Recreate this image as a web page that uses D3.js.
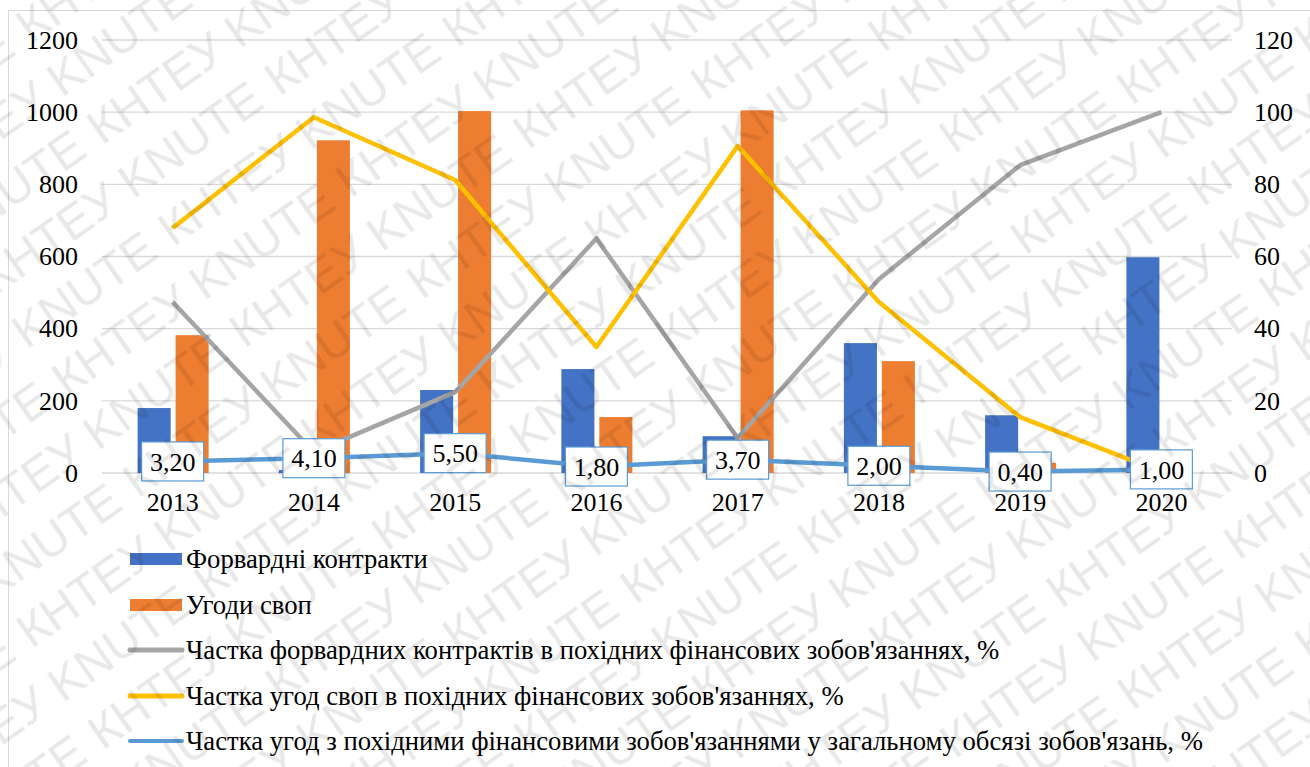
<html>
  <body style="margin:0;background:#fff">
    <style>
      svg text { font-family: 'Liberation Serif', 'Times New Roman', serif; fill: #000; }
      svg text.wm { font-family: 'Liberation Sans', Arial, sans-serif; fill: #000; fill-opacity: 0.09; }
    </style>
    <script src="https://d3js.org/d3.v7.min.js"></script>
    <svg id="chart"></svg>
    <script>
      const years = ['2013', '2014', '2015', '2016', '2017', '2018', '2019', '2020'];
      const forwards = [180, 8, 230, 288, 102, 360, 160, 598];
      const swaps = [382, 922, 1003, 155, 1005, 310, 28, 0];
      const forwardShare = [47.4, 5.8, 22.4, 65, 9.7, 53.7, 85.3, 100];
      const swapShare = [67.9, 98.6, 81.2, 34.9, 90.6, 47.4, 15.5, 0.3];
      const derivShare = [3.2, 4.1, 5.5, 1.8, 3.7, 2.0, 0.4, 1.0];
      const leftTicks = [0, 200, 400, 600, 800, 1000, 1200];
      const rightTicks = [0, 20, 40, 60, 80, 100, 120];
      const legendNames = [
        'Форвардні контракти',
        'Угоди своп',
        "Частка форвардних контрактів в похідних фінансових зобов'язаннях, %",
        "Частка угод своп в похідних фінансових зобов'язаннях, %",
        "Частка угод з похідними фінансовими зобов'язаннями у загальному обсязі зобов'язань, %"
      ];

      const W = 1310, H = 767;
      const margin = { left: 102, right: 78, top: 40, bottom: 294 };
      const plotW = W - margin.left - margin.right;
      const plotH = H - margin.top - margin.bottom;
      const colors = {
        fwd: '#4472C4', swap: '#ED7D31', fwdShare: '#A5A5A5', swapShare: '#FFC000', deriv: '#5B9BD5'
      };

      const svg = d3.select('#chart').attr('width', W).attr('height', H);
      svg.append('rect').attr('x', 8.5).attr('y', 10.5).attr('width', W + 10).attr('height', H + 10)
        .attr('fill', 'none').attr('stroke', '#d9d9d9');

      const g = svg.append('g').attr('transform', `translate(${margin.left},${margin.top})`);

      const x = d3.scaleBand().domain(years).range([0, plotW]);
      const xSub = d3.scaleBand().domain(['fwd', 'swap']).range([-35, 36]).paddingInner(0.13);
      const yL = d3.scaleLinear().domain([0, 1200]).range([plotH, 0]);
      const yR = d3.scaleLinear().domain([0, 120]).range([plotH, 0]);

      // gridlines
      g.append('g').selectAll('line').data(leftTicks).join('line')
        .attr('x1', 0).attr('x2', plotW)
        .attr('y1', d => yL(d)).attr('y2', d => yL(d))
        .attr('stroke', '#d9d9d9').attr('stroke-width', 1.3);

      // axes
      const axL = g.append('g').call(d3.axisLeft(yL).tickValues(leftTicks).tickFormat(d3.format('d')).tickSize(0).tickPadding(24));
      const axR = g.append('g').attr('transform', `translate(${plotW},0)`)
        .call(d3.axisRight(yR).tickValues(rightTicks).tickSize(0).tickPadding(22));
      const axX = g.append('g').attr('transform', `translate(0,${plotH})`)
        .call(d3.axisBottom(x).tickSize(0).tickPadding(20));
      [axL, axR, axX].forEach(a => {
        a.select('.domain').remove();
        a.attr('font-family', null).attr('font-size', 26);
      });

      // bars
      const barData = years.map((y, i) => ({ year: y, fwd: forwards[i], swap: swaps[i] }));
      const groups = g.append('g').selectAll('g').data(barData).join('g')
        .attr('transform', d => `translate(${x(d.year) + x.bandwidth() / 2},0)`);
      ['fwd', 'swap'].forEach(k => {
        groups.append('rect')
          .attr('x', xSub(k)).attr('width', xSub.bandwidth())
          .attr('y', d => yL(d[k])).attr('height', d => plotH - yL(d[k]))
          .attr('fill', colors[k]);
      });

      // lines
      const lineFor = vals => d3.line()
        .x((d, i) => x(years[i]) + x.bandwidth() / 2)
        .y(d => yR(d))(vals);
      [[forwardShare, colors.fwdShare], [swapShare, colors.swapShare], [derivShare, colors.deriv]].forEach(([vals, c]) => {
        g.append('path').attr('d', lineFor(vals)).attr('fill', 'none')
          .attr('stroke', c).attr('stroke-width', 4.5).attr('stroke-linejoin', 'round');
      });

      // data labels for derivative share
      const fmt = v => d3.format('.2f')(v).replace('.', ',');
      const labels = g.append('g').selectAll('g').data(derivShare).join('g')
        .attr('transform', (d, i) => `translate(${x(years[i]) + x.bandwidth() / 2},${yR(d)})`);
      labels.append('rect').attr('x', -31).attr('y', -19.5).attr('width', 62).attr('height', 39)
        .attr('fill', '#fff').attr('stroke', colors.deriv).attr('stroke-width', 1.2);
      labels.append('text').attr('text-anchor', 'middle').attr('dy', '0.35em')
        .attr('font-size', 26).text(fmt);

      // legend
      const legend = svg.append('g');
      const rowY = [559, 605, 650, 696, 741];
      const kinds = ['bar', 'bar', 'line', 'line', 'line'];
      const legColors = [colors.fwd, colors.swap, colors.fwdShare, colors.swapShare, colors.deriv];
      legendNames.forEach((name, i) => {
        const row = legend.append('g').attr('transform', `translate(0,${rowY[i]})`);
        if (kinds[i] === 'bar') {
          row.append('rect').attr('x', 130).attr('y', -6).attr('width', 52).attr('height', 12).attr('fill', legColors[i]);
        } else {
          row.append('line').attr('x1', 130).attr('x2', 182).attr('y1', 0).attr('y2', 0)
            .attr('stroke', legColors[i]).attr('stroke-width', i === 4 ? 4 : 5).attr('stroke-linecap', 'round');
        }
        row.append('text').attr('x', 186).attr('dy', '0.35em')
          .attr('font-size', 26.7).text(name);
      });

      // watermark as a rotated text pattern
      const wmWord = 'КНТЕУ KNUTE';
      const probe = svg.append('text').attr('class', 'wm').attr('font-size', 48).text(wmWord);
      const wmW = probe.node().getComputedTextLength() + 16;
      probe.remove();
      const rowGap = 62;
      const pat = svg.append('defs').append('pattern').attr('id', 'wm')
        .attr('patternUnits', 'userSpaceOnUse')
        .attr('width', wmW).attr('height', rowGap * 2)
        .attr('patternTransform', 'rotate(-35)');
      [[0, rowGap - 8], [-wmW / 2, rowGap * 2 - 8], [wmW / 2, rowGap * 2 - 8]].forEach(([tx, ty]) => {
        pat.append('text').attr('class', 'wm').attr('x', tx).attr('y', ty)
          .attr('font-size', 48).text(wmWord);
      });
      svg.append('rect').attr('width', W).attr('height', H)
        .attr('fill', 'url(#wm)').attr('pointer-events', 'none');
    </script>
  </body>
</html>
